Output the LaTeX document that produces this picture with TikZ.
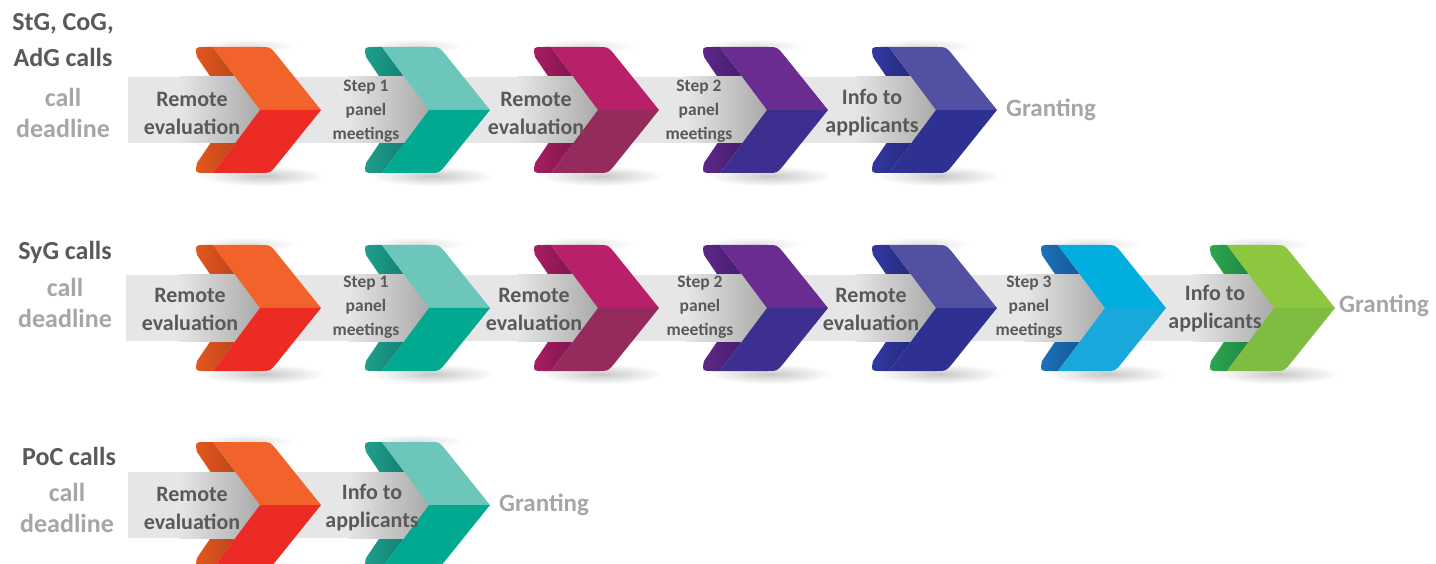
\documentclass[tikz,border=0pt]{standalone}
\usepackage{fontspec}
\setmainfont{Carlito}
\definecolor{bandgray}{HTML}{E6E6E6}
\definecolor{shadowgray}{HTML}{A9A9A9}
\definecolor{txtdark}{HTML}{595959}
\definecolor{txtlight}{HTML}{A6A6A6}
% chevron palettes
\definecolor{orU}{HTML}{F1632A}\definecolor{orL}{HTML}{EC2B25}\definecolor{orF}{HTML}{E4581F}\definecolor{orD}{HTML}{A53A17}
\definecolor{teU}{HTML}{6CC7BA}\definecolor{teL}{HTML}{00A98F}\definecolor{teF}{HTML}{1FA08D}\definecolor{teD}{HTML}{0D6E63}
\definecolor{maU}{HTML}{B8206A}\definecolor{maL}{HTML}{952A5C}\definecolor{maF}{HTML}{A81D62}\definecolor{maD}{HTML}{6A1340}
\definecolor{puU}{HTML}{6A2C91}\definecolor{puL}{HTML}{3C2F8F}\definecolor{puF}{HTML}{5E2789}\definecolor{puD}{HTML}{36185C}
\definecolor{inU}{HTML}{5150A2}\definecolor{inL}{HTML}{2F3192}\definecolor{inF}{HTML}{3338A2}\definecolor{inD}{HTML}{1C2268}
\definecolor{cyU}{HTML}{00AEE0}\definecolor{cyL}{HTML}{18A8DC}\definecolor{cyF}{HTML}{1C72B8}\definecolor{cyD}{HTML}{0E4A85}
\definecolor{grU}{HTML}{8DC63F}\definecolor{grL}{HTML}{7FBD41}\definecolor{grF}{HTML}{2DA84E}\definecolor{grD}{HTML}{17723A}
% soft drop shadow around a chevron: #1=L #2=M
\newcommand\chevdrop[2]{%
  \shade[inner color=black!22, outer color=white] ({#1+66},{#2+66}) ellipse [x radius=62, y radius=10];
  \shade[inner color=black!12, outer color=white] ({#1+50},{#2-64}) ellipse [x radius=50, y radius=7];}
% #1=L  #2=M  #3 fold light  #4 fold dark
\newcommand\chevfold[4]{%
  \path[left color=#3, right color=#4]
    ({#1+16},{#2-63}) -- ({#1+63},{#2}) -- ({#1+16},{#2+63}) -- ({#1+8},{#2+63})
    .. controls ({#1-2},{#2+63}) .. ({#1},{#2+53}) -- ({#1+36},{#2})
    -- ({#1},{#2-53}) .. controls ({#1-2},{#2-63}) .. ({#1+8},{#2-63}) -- cycle;}
% band shadow in front of a chevron: #1=L #2=M
\newcommand\chevshadow[2]{%
  \shade[left color=bandgray, right color=shadowgray] ({#1-18},{#2-33}) rectangle ({#1+64},{#2+33});}
% #1=L  #2=M  #3 upper  #4 lower
\newcommand\chevface[4]{%
  \fill[#3] ({#1+16},{#2-63}) -- ({#1+64},{#2-63}) .. controls ({#1+73},{#2-63}) .. ({#1+79},{#2-56})
    -- ({#1+124},{#2}) -- ({#1+63},{#2}) -- cycle;
  \fill[#4] ({#1+63},{#2}) -- ({#1+124},{#2}) -- ({#1+79},{#2+56})
    .. controls ({#1+73},{#2+63}) .. ({#1+64},{#2+63}) -- ({#1+16},{#2+63}) -- cycle;}
\tikzset{
  lbl/.style={text=txtdark, font=\bfseries\fontsize{22}{28}\selectfont, align=center, inner sep=0pt},
  steplbl/.style={text=txtdark, font=\bfseries\fontsize{17.5}{24}\selectfont, align=center, inner sep=0pt},
  grant/.style={text=txtlight, font=\bfseries\fontsize{25}{30}\selectfont, anchor=west, inner sep=0pt},
  calls/.style={text=txtdark, font=\bfseries\fontsize{26}{36}\selectfont, align=center, inner sep=0pt},
  deadl/.style={text=txtlight, font=\bfseries\fontsize{26}{31}\selectfont, align=center, inner sep=0pt}
}
\begin{document}
\begin{tikzpicture}[x=1pt,y=-1pt]
\useasboundingbox (0,0) rectangle (1436,564);
\clip (0,0) rectangle (1436,564);
\fill[white] (0,0) rectangle (1436,564);

% ---------------- Row 1 ----------------
\foreach \L in {197,366,535,704,873} {\chevdrop{\L}{110}}
\chevfold{197}{110}{orF}{orD}
\chevfold{366}{110}{teF}{teD}
\chevfold{535}{110}{maF}{maD}
\chevfold{704}{110}{puF}{puD}
\chevfold{873}{110}{inF}{inD}
\fill[bandgray] (128,77) rectangle (936,143);
\foreach \L in {197,366,535,704,873} {\chevshadow{\L}{110}}
\chevface{197}{110}{orU}{orL}
\chevface{366}{110}{teU}{teL}
\chevface{535}{110}{maU}{maL}
\chevface{704}{110}{puU}{puL}
\chevface{873}{110}{inU}{inL}

\node[calls] (h1) at (63,40) {StG, CoG,\\AdG calls};
\node[deadl] (d1) at (63,113) {call\\deadline};
\node[lbl] (a1) at (192,113) {Remote\\evaluation};
\node[steplbl] (a2) at (366,111) {Step 1\\panel\\meetings};
\node[lbl] (a3) at (536,113) {Remote\\evaluation};
\node[steplbl] (a4) at (699,111) {Step 2\\panel\\meetings};
\node[lbl] (a5) at (872,113) {Info to\\applicants};
\node[grant] (g1) at (1006,110) {Granting};

% ---------------- Row 2 ----------------
\foreach \L in {197,366,535,704,873,1042,1211} {\chevdrop{\L}{308}}
\chevfold{197}{308}{orF}{orD}
\chevfold{366}{308}{teF}{teD}
\chevfold{535}{308}{maF}{maD}
\chevfold{704}{308}{puF}{puD}
\chevfold{873}{308}{inF}{inD}
\chevfold{1042}{308}{cyF}{cyD}
\chevfold{1211}{308}{grF}{grD}
\fill[bandgray] (126,275) rectangle (1274,341);
\foreach \L in {197,366,535,704,873,1042,1211} {\chevshadow{\L}{308}}
\chevface{197}{308}{orU}{orL}
\chevface{366}{308}{teU}{teL}
\chevface{535}{308}{maU}{maL}
\chevface{704}{308}{puU}{puL}
\chevface{873}{308}{inU}{inL}
\chevface{1042}{308}{cyU}{cyL}
\chevface{1211}{308}{grU}{grL}

\node[calls] (h2) at (65,252) {SyG calls};
\node[deadl] (d2) at (65,303) {call\\deadline};
\node[lbl] (b1) at (190,309) {Remote\\evaluation};
\node[steplbl] (b2) at (366,307) {Step 1\\panel\\meetings};
\node[lbl] (b3) at (534,309) {Remote\\evaluation};
\node[steplbl] (b4) at (700,307) {Step 2\\panel\\meetings};
\node[lbl] (b5) at (871,309) {Remote\\evaluation};
\node[steplbl] (b6) at (1029,307) {Step 3\\panel\\meetings};
\node[lbl] (b7) at (1215,309) {Info to\\applicants};
\node[grant] (g2) at (1339,306) {Granting};

% ---------------- Row 3 ----------------
\foreach \L in {197,366} {\chevdrop{\L}{505}}
\chevfold{197}{505}{orF}{orD}
\chevfold{366}{505}{teF}{teD}
\fill[bandgray] (128,472) rectangle (429,538);
\foreach \L in {197,366} {\chevshadow{\L}{505}}
\chevface{197}{505}{orU}{orL}
\chevface{366}{505}{teU}{teL}

\node[calls] (h3) at (69,456) {PoC calls};
\node[deadl] (d3) at (67,508) {call\\deadline};
\node[lbl] (c1) at (192,508) {Remote\\evaluation};
\node[lbl] (c2) at (372,508) {Info to\\applicants};
\node[grant] (g3) at (499,505) {Granting};
\end{tikzpicture}
\end{document}
